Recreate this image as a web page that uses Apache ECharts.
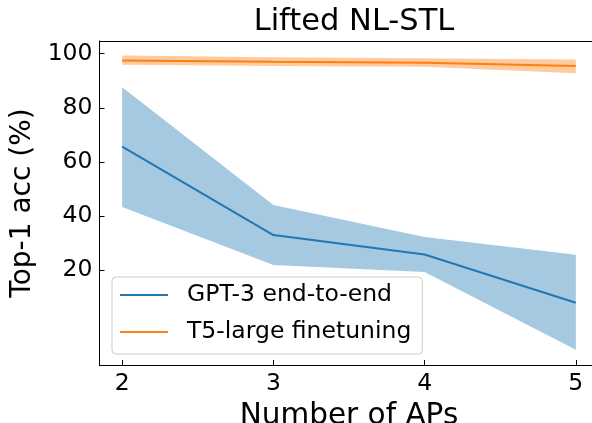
<!DOCTYPE html>
<html>
<head>
<meta charset="utf-8">
<script src="https://cdn.jsdelivr.net/npm/echarts@6/dist/echarts.min.js"></script>
<style>
html,body{margin:0;padding:0;background:#fff;overflow:hidden;}
#chart{width:592px;height:423px;}
</style>
</head>
<body>
<div id="chart"></div>
<script>
var xValues = [2, 3, 4, 5];
var gptMean = [65.7, 33.0, 25.8, 8.0];
var gptUpper = [87.6, 44.1, 32.3, 25.7];
var gptLower = [43.4, 21.9, 19.4, -9.4];
var t5Mean = [97.5, 97.0, 96.7, 95.5];
var t5Upper = [99.3, 98.7, 98.3, 97.9];
var t5Lower = [95.9, 95.5, 95.2, 92.8];
var xTicks = [2, 3, 4, 5];
var yTicks = [20, 40, 60, 80, 100];

var FONT = 'DejaVu Sans';

function pairs(xs, ys) { return xs.map(function (x, i) { return [x, ys[i]]; }); }

function bandSeries(upper, lower, color, z) {
  return {
    type: 'custom',
    silent: true,
    z: z,
    data: [0],
    renderItem: function (params, api) {
      var pts = [];
      for (var i = 0; i < xValues.length; i++) pts.push(api.coord([xValues[i], upper[i]]));
      for (var j = xValues.length - 1; j >= 0; j--) pts.push(api.coord([xValues[j], lower[j]]));
      return { type: 'polygon', shape: { points: pts }, style: { fill: color } };
    }
  };
}

var chart = echarts.init(document.getElementById('chart'), null, { renderer: 'canvas' });
chart.setOption({
  animation: false,
  backgroundColor: '#ffffff',
  textStyle: { fontFamily: FONT },
  title: {
    text: 'Lifted NL-STL',
    left: 349,
    textAlign: 'center',
    top: 2,
    textStyle: { fontFamily: FONT, fontSize: 30.5, fontWeight: 'normal', color: '#000' }
  },
  grid: {
    left: 99.5, top: 41, width: 499, height: 324,
    outerBoundsMode: 'none', containLabel: false,
    show: false
  },
  legend: {
    left: 112, top: 277,
    orient: 'vertical',
    data: ['GPT-3 end-to-end', 'T5-large finetuning'],
    icon: 'path://M0,0H48V2H0Z',
    itemWidth: 48, itemHeight: 24, itemGap: 13,
    padding: [6, 11, 10, 8],
    backgroundColor: 'rgba(255,255,255,0.8)',
    borderColor: '#cccccc', borderWidth: 1, borderRadius: 4,
    textStyle: { fontFamily: FONT, fontSize: 23.5, lineHeight: 24, color: '#000', padding: [0, 0, 0, 14] }
  },
  xAxis: [{
    type: 'value', min: 1.85, max: 5.15,
    name: 'Number of APs', nameLocation: 'middle', nameGap: 27,
    nameTextStyle: { fontFamily: FONT, fontSize: 29.5, color: '#000' },
    splitLine: { show: false },
    axisLine: { show: true, onZero: false, lineStyle: { color: '#000', width: 1 } },
    axisTick: { show: true, inside: true, length: 5, lineStyle: { color: '#000', width: 1 }, customValues: xTicks },
    axisLabel: { fontFamily: FONT, fontSize: 23.5, color: '#000', margin: 7, customValues: xTicks }
  }, {
    type: 'value', position: 'top', min: 1.85, max: 5.15,
    splitLine: { show: false },
    axisLine: { show: true, onZero: false, lineStyle: { color: '#000', width: 1 } },
    axisTick: { show: false }, axisLabel: { show: false }
  }],
  yAxis: {
    type: 'value', min: -15, max: 104.7,
    name: 'Top-1 acc (%)', nameLocation: 'middle', nameGap: 62,
    nameTextStyle: { fontFamily: FONT, fontSize: 28, color: '#000' },
    splitLine: { show: false },
    axisLine: { show: true, onZero: false, lineStyle: { color: '#000', width: 1 } },
    axisTick: { show: true, inside: true, length: 5, lineStyle: { color: '#000', width: 1 }, customValues: yTicks },
    axisLabel: { fontFamily: FONT, fontSize: 23.5, color: '#000', margin: 7, customValues: yTicks }
  },
  series: [
    bandSeries(gptUpper, gptLower, 'rgba(31,119,180,0.4)', 1),
    bandSeries(t5Upper, t5Lower, 'rgba(255,127,14,0.4)', 1),
    {
      name: 'GPT-3 end-to-end', type: 'line', z: 3,
      data: pairs(xValues, gptMean), symbol: 'none', showSymbol: false,
      lineStyle: { color: '#1f77b4', width: 2 }, itemStyle: { color: '#1f77b4' }
    },
    {
      name: 'T5-large finetuning', type: 'line', z: 3,
      data: pairs(xValues, t5Mean), symbol: 'none', showSymbol: false,
      lineStyle: { color: '#ff7f0e', width: 2 }, itemStyle: { color: '#ff7f0e' }
    }
  ]
});
</script>
</body>
</html>
